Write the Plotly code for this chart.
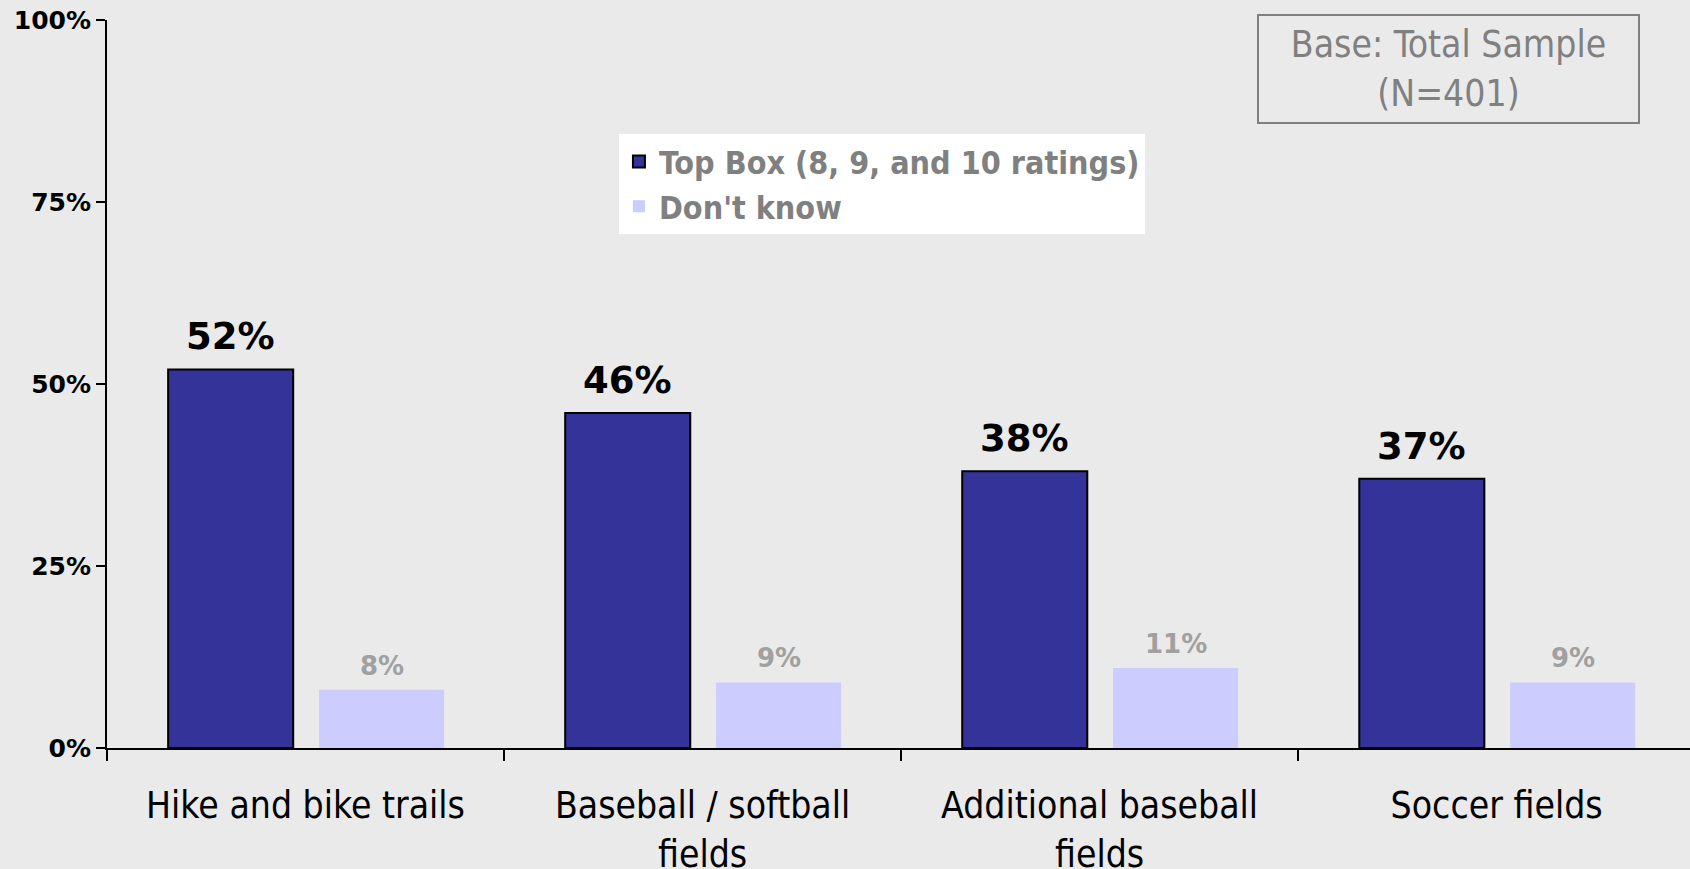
import plotly.graph_objects as go

categories = ["Hike and bike trails", "Baseball / softball<br>fields",
              "Additional baseball<br>fields", "Soccer fields"]
top_box = [52, 46, 38, 37]
dont_know = [8, 9, 11, 9]
series_names = ["Top Box (8, 9, and 10 ratings)", "Don't know"]
y_ticks = [0, 25, 50, 75, 100]
y_tick_text = ["0%", "25%", "50%", "75%", "100%"]

FONT = "DejaVu Sans Condensed, DejaVu Sans, sans-serif"
FONT_W = "DejaVu Sans, sans-serif"
BG = "#eaeaea"

W = 0.315
OFF1, OFF2 = -0.346, 0.034

fig = go.Figure()
fig.add_trace(go.Bar(x=categories, y=top_box, name=series_names[0], width=W, offset=OFF1,
                     marker=dict(color="#333399", line=dict(color="#000000", width=2))))
fig.add_trace(go.Bar(x=categories, y=dont_know, name=series_names[1], width=W, offset=OFF2,
                     marker=dict(color="#ccccff", line=dict(width=0))))

for i, v in enumerate(top_box):
    fig.add_annotation(x=i + OFF1 + W / 2, y=v, xref="x", yref="y", text=f"{v}%",
                       showarrow=False, yanchor="bottom", yshift=9,
                       font=dict(family=FONT_W, size=37, color="#000000", weight="bold"))
for i, v in enumerate(dont_know):
    fig.add_annotation(x=i + OFF2 + W / 2, y=v, xref="x", yref="y", text=f"{v}%",
                       showarrow=False, yanchor="bottom", yshift=7,
                       font=dict(family=FONT_W, size=26, color="#a0a0a0", weight="bold"))

fig.add_annotation(x=0.8475, y=0.9327, xref="paper", yref="paper",
                   text="Base: Total Sample<br>(N=401)", showarrow=False,
                   xanchor="center", yanchor="middle", width=379, height=106,
                   bordercolor="#808080", borderwidth=2, borderpad=0, align="center",
                   font=dict(family=FONT, size=37, color="#808080"))

fig.update_layout(
    width=1690, height=869,
    margin=dict(l=107, r=0, t=20, b=121),
    paper_bgcolor=BG, plot_bgcolor=BG,
    barmode="overlay",
    showlegend=True,
    legend=dict(x=0.3234, y=0.843, xanchor="left", yanchor="top",
                bgcolor="#ffffff", borderwidth=0,
                font=dict(family=FONT, size=32, color="#808080", weight="bold"),
                itemsizing="constant", tracegroupgap=0),
    xaxis=dict(type="category", categoryorder="array", categoryarray=categories,
               range=[-0.5, 3.487], showline=True, linecolor="#000000", linewidth=2,
               ticks="outside", tickson="boundaries", ticklen=11, tickwidth=2,
               tickcolor="#000000", automargin=False,
               showgrid=False, zeroline=False, ticklabelstandoff=24,
               tickfont=dict(family=FONT, size=37, color="#000000")),
    yaxis=dict(range=[0, 100], tickmode="array", tickvals=y_ticks, ticktext=y_tick_text,
               showline=True, linecolor="#000000", linewidth=2, automargin=False,
               ticks="outside", ticklen=9, tickwidth=2, tickcolor="#000000",
               showgrid=False, zeroline=False,
               tickfont=dict(family=FONT_W, size=25, color="#000000", weight="bold")),
)

fig.write_html("out.html")
